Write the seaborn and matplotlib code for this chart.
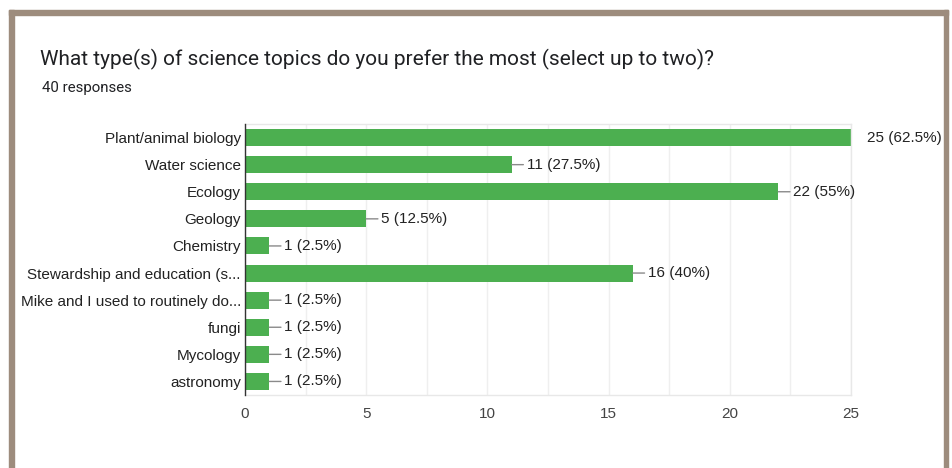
import matplotlib
matplotlib.use("Agg")
import matplotlib.pyplot as plt
import seaborn as sns
import pandas as pd
import numpy as np
from matplotlib.patches import Rectangle

title = "What type(s) of science topics do you prefer the most (select up to two)?"
subtitle = "40 responses"
total_responses = 40
categories = [
    "Plant/animal biology",
    "Water science",
    "Ecology",
    "Geology",
    "Chemistry",
    "Stewardship and education (s...",
    "Mike and I used to routinely do...",
    "fungi",
    "Mycology",
    "astronomy",
]
counts = [25, 11, 22, 5, 1, 16, 1, 1, 1, 1]
x_ticks = [0, 5, 10, 15, 20, 25]

sns.set_theme(style="white")
plt.rcParams['font.family'] = ['Liberation Sans', 'DejaVu Sans']

W, H = 952, 468
fig = plt.figure(figsize=(W / 100, H / 100), dpi=100)
fig.patch.set_facecolor("white")

# frame
frame_col = "#9d8c7d"
fig.patches.append(Rectangle((9 / W, 0), 5 / W, 1 - 10 / H, transform=fig.transFigure, color=frame_col, zorder=0))
fig.patches.append(Rectangle((944 / W, 0), 4 / W, 1 - 10 / H, transform=fig.transFigure, color=frame_col, zorder=0))
fig.patches.append(Rectangle((9 / W, 1 - 15 / H), (948 - 9) / W, 5 / H, transform=fig.transFigure, color=frame_col, zorder=0))

ax = fig.add_axes([245 / W, 1 - 395 / H, (851 - 245) / W, (395 - 124) / H])
df = pd.DataFrame({"category": categories, "count": counts})
sns.barplot(data=df, x="count", y="category", color="#4caf50", saturation=1,
            width=0.63, ax=ax, edgecolor="none", linewidth=0)

ax.set_xlim(0, 25)
ax.set_ylim(len(categories) - 0.5, -0.5)
ax.set_xticks(x_ticks)
ax.set_xticks(np.arange(0, 25.01, 2.5), minor=True)
ax.grid(axis='x', which='both', color='#efefef', lw=1)
ax.set_axisbelow(True)
for s in ["top", "right", "bottom"]:
    ax.spines[s].set_color("#e8e8e8")
    ax.spines[s].set_linewidth(1)
ax.spines["left"].set_color("#333333")
ax.spines["left"].set_linewidth(1)
ax.spines["left"].set_zorder(5)
ax.tick_params(axis='y', which='both', length=0, pad=3, labelsize=11, labelcolor='#222222')
ax.tick_params(axis='x', which='both', length=0, pad=9, labelsize=11, labelcolor='#444444')
ax.set_xlabel("")
ax.set_ylabel("")

vmax = max(counts)
for i, v in enumerate(counts):
    label = f"{v} ({v / total_responses * 100:g}%)"
    if v == vmax:
        ax.annotate(label, xy=(v, i), xytext=(16, 0), textcoords='offset pixels',
                    va='center', ha='left', fontsize=11, color='#222222',
                    annotation_clip=False)
    else:
        ax.annotate(label, xy=(v, i), xytext=(15, 0), textcoords='offset pixels',
                    va='center', ha='left', fontsize=11, color='#222222',
                    arrowprops=dict(arrowstyle='-', color='#8a8a8a', lw=1,
                                    shrinkA=0, shrinkB=0, relpos=(0, 0.5)),
                    annotation_clip=False)

fig.text(40 / W, 1 - 65 / H, title, fontsize=15, color='#202124',
         family=['Roboto', 'DejaVu Sans'], va='baseline', ha='left')
fig.text(42 / W, 1 - 92 / H, subtitle, fontsize=10.8, color='#202124',
         family=['Roboto', 'DejaVu Sans'], va='baseline', ha='left')

fig.savefig("out.png", dpi=100)
